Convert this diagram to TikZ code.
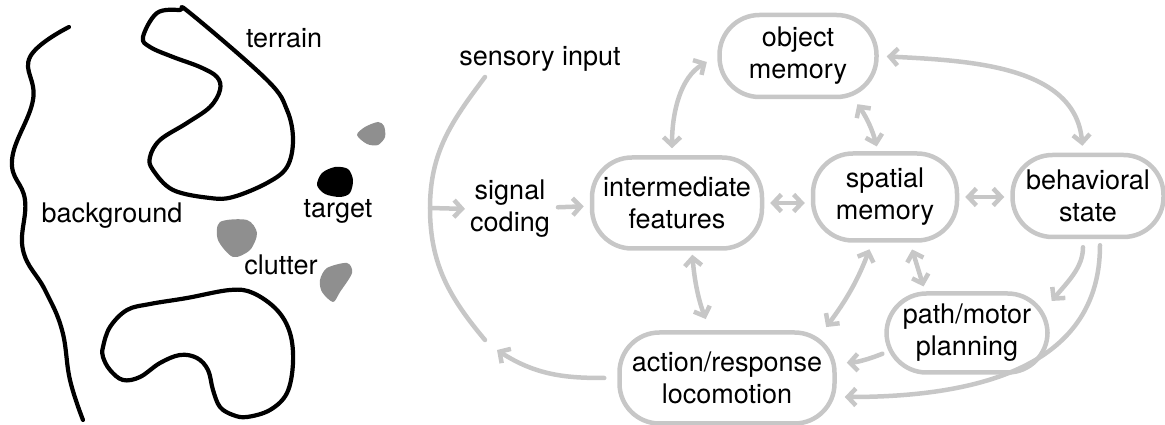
\documentclass[tikz,border=0pt]{standalone}
\usepackage{fontspec}
\setmainfont{TeX Gyre Heros}
\usetikzlibrary{arrows.meta}

\definecolor{linkgrey}{gray}{0.78}
\definecolor{blobgrey}{gray}{0.56}

\tikzset{
  box/.style={draw=linkgrey, line width=4.5pt, rounded corners=40pt, align=center, inner sep=0pt},
  txt/.style={align=center, inner sep=2pt},
  link/.style={draw=linkgrey, line width=4.5pt, line cap=round,
    -{Straight Barb[length=8pt,width=17pt]}, shorten <=6pt, shorten >=6pt},
  twoway/.style={link, {Straight Barb[length=8pt,width=17pt]}-{Straight Barb[length=8pt,width=17pt]}},
  outline/.style={line width=4.2pt, line cap=round, line join=round},
}

\begin{document}
\begin{tikzpicture}[x=1pt, y=1pt, font=\fontsize{27}{32}\selectfont]

\useasboundingbox (0,0) rectangle (1165,425);

% Scene: background edge
\draw[outline] plot[smooth, tension=0.7] coordinates {(69,398) (30,368) (33,325) (12,265) (25,225) (23,175) (45,135) (62,95) (70,45) (83,5)};

% Scene: terrain
\draw[outline] plot[smooth cycle, tension=0.6] coordinates {(143,388) (157,412) (180,415) (190,412) (267,345) (287,315) (293,285) (287,258) (267,242) (233,228) (210,227) (173,235) (153,255) (150,268) (160,285) (187,302) (210,318) (220,335) (217,348) (200,358) (173,368) (150,378)};

\draw[outline] plot[smooth cycle, tension=0.6] coordinates {(103,78) (110,98) (127,115) (150,121) (187,127) (230,135) (253,132) (277,115) (290,92) (293,62) (287,32) (270,15) (247,8) (233,10) (220,18) (213,35) (208,55) (197,67) (180,70) (160,62) (140,48) (123,45) (110,55) (103,68)};

% Scene: target and clutter
\fill[blobgrey] plot[smooth cycle] coordinates {(357,290) (365,298) (378,303) (384,299) (385,288) (378,280) (367,281)};
\fill[black] plot[smooth cycle] coordinates {(317,240) (322,252) (335,258) (348,256) (353,245) (350,232) (340,228) (325,231)};
\fill[blobgrey] plot[smooth cycle] coordinates {(220,203) (247,205) (257,192) (250,175) (233,168) (218,185)};
\fill[blobgrey] plot[smooth cycle] coordinates {(347,162) (352,152) (340,133) (333,123) (322,133) (320,145) (327,157)};

% Scene labels
\node[txt] (terrain) at (284,387) {terrain};
\node[txt] (backgr) at (112,209) {background};
\node[txt] (target) at (338,214) {target};
\node[txt] (clutter) at (281,160) {clutter};

% Stages
\node[txt] (sens) at (540,366) {sensory input};
\node[txt] (signal) at (510,216) {signal\\coding};
\node[box, minimum width=157pt, minimum height=82pt] (obj) at (798,369) {object\\memory};
\node[box, minimum width=170pt, minimum height=91pt] (inter) at (677,222) {intermediate\\features};
\node[box, minimum width=144pt, minimum height=87pt] (spatial) at (885,228) {spatial\\memory};
\node[box, minimum width=151pt, minimum height=82pt] (behav) at (1088,229) {behavioral\\state};
\node[box, minimum width=161pt, minimum height=79pt] (path) at (967,92) {path/motor\\planning};
\node[box, minimum width=215pt, minimum height=91pt] (action) at (727,47) {action/response\\locomotion};

% Input loop
\coordinate (arcMid) at (430,217);
\coordinate (arcBot) at (485,85);
\coordinate (feedback) at (497,75);
\draw[link, -, shorten <=0pt, shorten >=0pt] ([xshift=-55pt,yshift=-18pt]sens.center) to[out=233,in=90] (arcMid) to[out=-90,in=130] (arcBot);
\draw[link, shorten <=0pt, shorten >=3pt] (arcMid) -- (signal.west);
\draw[link] (signal) -- (inter);
\draw[link, shorten <=13pt, shorten >=0pt] (action.west) to[out=180,in=-33] (feedback);

% Links between stages
\draw[twoway] (inter.east) -- (inter.east -| spatial.west);
\draw[twoway] (spatial.east) -- (spatial.east -| behav.west);
\draw[twoway, shorten <=7pt, shorten >=12pt] ([xshift=-5pt]inter.north) to[out=90,in=210] (obj.west);
\draw[twoway, shorten >=5pt] ([xshift=56pt]obj.south) to[bend left=10] ([xshift=-7pt]spatial.north);
\draw[twoway, shorten <=8pt, shorten >=7pt] (obj.east) to[out=-3,in=95] ([xshift=-5pt]behav.north);
\draw[twoway, shorten <=4pt, shorten >=12pt] ([xshift=15pt]inter.south) to[bend right=8] ([xshift=-17pt]action.north);
\draw[twoway, shorten <=7pt, shorten >=4pt] ([xshift=-13pt]spatial.south) to[bend left=8] ([xshift=-13pt]action.north east);
\draw[twoway, shorten <=7pt, shorten >=5pt] ([xshift=25pt]spatial.south) -- ([xshift=-42pt]path.north);
\draw[link, shorten <=8pt, shorten >=3pt] ([xshift=-5pt]behav.south) to[out=-90,in=50] ([yshift=-12pt]path.north east);
\draw[link, shorten >=8pt] ([xshift=12pt]behav.south) to[out=-90,in=0,looseness=1.1] ([yshift=-19pt]action.east);
\draw[link, shorten <=2pt, shorten >=10pt] ([yshift=-20pt]path.west) to[bend left=10] ([yshift=15pt]action.east);

\end{tikzpicture}
\end{document}
